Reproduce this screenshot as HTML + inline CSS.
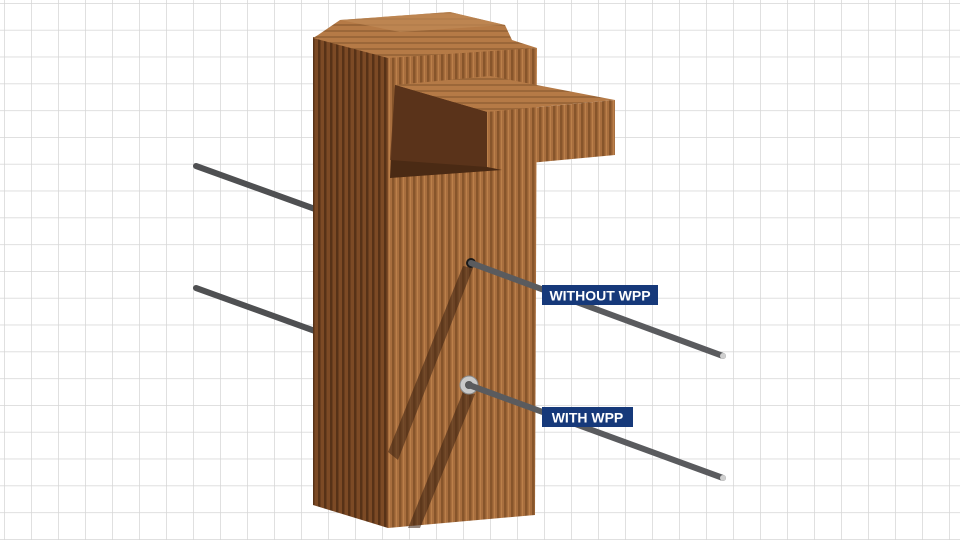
<!DOCTYPE html>
<html><head><meta charset="utf-8"><style>
html,body{margin:0;padding:0;background:#fff;}
svg{display:block;}
</style></head><body>
<svg width="960" height="540" viewBox="0 0 960 540" xmlns="http://www.w3.org/2000/svg">
<defs>
<pattern id="grid" x="4" y="3" width="27" height="26.8" patternUnits="userSpaceOnUse">
<path d="M0 0V26.8M0 0H27" stroke="#d6d6d6" stroke-width="1.5" fill="none"/>
</pattern>
<pattern id="vgrain" width="7" height="10" patternUnits="userSpaceOnUse">
<rect width="7" height="10" fill="#a86e3e"/>
<rect x="0" width="2.5" height="10" fill="#7a4a24" opacity="0.7"/>
<rect x="4" width="1" height="10" fill="#c48850" opacity="0.7"/>
</pattern>
<pattern id="vgrainD" width="6" height="10" patternUnits="userSpaceOnUse">
<rect width="6" height="10" fill="#7c4a25"/>
<rect x="0" width="2.5" height="10" fill="#4e2c14" opacity="0.8"/>
</pattern>
<pattern id="hgrain" width="10" height="6" patternUnits="userSpaceOnUse">
<rect width="10" height="6" fill="#b57a46"/>
<rect y="0" width="10" height="2" fill="#8a5a30" opacity="0.6"/>
</pattern>
</defs>
<rect width="960" height="540" fill="#fff"/>
<rect width="960" height="540" fill="url(#grid)"/>

<!-- back rods -->
<line x1="196" y1="166" x2="315" y2="209" stroke="#4f5052" stroke-width="6" stroke-linecap="round"/>
<line x1="196" y1="288" x2="315" y2="331" stroke="#4f5052" stroke-width="6" stroke-linecap="round"/>

<!-- left face -->
<polygon points="313,37 388,56 388,528 313,505" fill="url(#vgrainD)"/>
<!-- front face -->
<polygon points="388,56 537,48 535,515 388,528" fill="url(#vgrain)"/>
<!-- cap -->
<polygon points="318,35 340,20 450,12 505,25 512,40 537,48 388,58 313,38" fill="url(#hgrain)"/>
<polygon points="340,20 450,12 505,25 400,32" fill="#c08a55" opacity="0.7"/>
<!-- beam -->
<polygon points="395,85 490,76 615,100 487,112" fill="url(#hgrain)"/>
<polygon points="487,112 615,100 615,155 487,167" fill="url(#vgrain)"/>
<polygon points="395,85 487,112 487,167 502,170 390,178" fill="#4a2a14"/>
<polygon points="395,85 487,112 487,167 390,160" fill="#5e361b" opacity="0.8"/>

<!-- shadows on front face -->
<polygon points="463,266 473,268 398,460 388,452" fill="#3a2010" opacity="0.55"/>
<polygon points="463,392 475,394 420,528 408,528" fill="#3a2010" opacity="0.55"/>

<!-- front rods -->
<circle cx="471" cy="263" r="5" fill="#1a1a1a"/>
<line x1="471" y1="263" x2="723" y2="356" stroke="#5a5b5e" stroke-width="6" stroke-linecap="round"/>
<circle cx="723" cy="356" r="3" fill="#cfcfcf"/>
<circle cx="469" cy="385" r="9" fill="#c9c9c9" stroke="#888" stroke-width="1"/>
<circle cx="469" cy="385" r="4" fill="#555"/>
<line x1="469" y1="385" x2="723" y2="478" stroke="#5a5b5e" stroke-width="6" stroke-linecap="round"/>
<circle cx="723" cy="478" r="3" fill="#cfcfcf"/>

<!-- labels -->
<rect x="542" y="285" width="116" height="20" fill="#16397a"/>
<text x="600" y="300.5" text-anchor="middle" font-family="Liberation Sans, sans-serif" font-weight="bold" font-size="14" fill="#fff">WITHOUT WPP</text>
<rect x="542" y="407" width="91" height="20" fill="#16397a"/>
<text x="587.5" y="422.5" text-anchor="middle" font-family="Liberation Sans, sans-serif" font-weight="bold" font-size="14" fill="#fff">WITH WPP</text>
</svg>
</body></html>
